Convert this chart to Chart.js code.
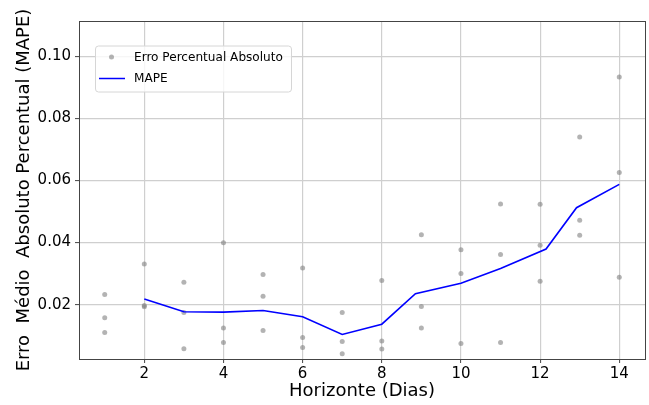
<!DOCTYPE html>
<html>
<head>
<meta charset="utf-8">
<script src="https://cdn.jsdelivr.net/npm/chart.js@4/dist/chart.umd.min.js"></script>
<style>
  html, body { margin: 0; padding: 0; background: #fff; overflow: hidden; }
  #mapeChart { display: block; }
</style>
</head>
<body>
<canvas id="mapeChart" width="649" height="405"></canvas>
<script>
// Horizontes (dias) e erros
const dias = [1, 2, 3, 4, 5, 6, 7, 8, 9, 10, 11, 12, 13, 14];
const erroAlto = [0.0233, 0.0331, 0.0272, 0.0399, 0.0297, 0.0318, 0.0175, 0.0278, 0.0425, 0.0377, 0.0524, 0.0523, 0.0740, 0.0933];
const erroMedio = [0.0158, 0.0197, 0.0175, 0.0125, 0.0227, 0.0094, 0.0081, 0.0083, 0.0194, 0.0300, 0.0361, 0.0391, 0.0472, 0.0625];
const erroBaixo = [0.0110, 0.0193, 0.0058, 0.0078, 0.0117, 0.0062, 0.0042, 0.0057, 0.0125, 0.0075, 0.0078, 0.0275, 0.0423, 0.0288];

// Curva MAPE
const mapeX = [2, 3, 4, 5, 6, 7, 8, 8.85, 10, 11, 12.15, 12.92, 14];
const mapeY = [0.0218, 0.0177, 0.0176, 0.0181, 0.0161, 0.0104, 0.0137, 0.0235, 0.0269, 0.0316, 0.0379, 0.0512, 0.0587];

const xTicks = [2, 4, 6, 8, 10, 12, 14];
const yTicks = [0.02, 0.04, 0.06, 0.08, 0.10];

const pontos = [];
[erroAlto, erroMedio, erroBaixo].forEach(serie => {
    serie.forEach((v, i) => pontos.push({ x: dias[i], y: v }));
});
const mape = mapeX.map((x, i) => ({ x: x, y: mapeY[i] }));

Chart.defaults.font.family = "'DejaVu Sans', sans-serif";
Chart.defaults.color = '#000';

// moldura do gráfico (estilo matplotlib)
const moldura = {
    id: 'moldura',
    afterDatasetsDraw(chart) {
        const a = chart.chartArea;
        const ctx = chart.ctx;
        ctx.save();
        ctx.strokeStyle = '#444';
        ctx.lineWidth = 1;
        ctx.strokeRect(Math.round(a.left) + 0.5, Math.round(a.top) + 0.5,
            Math.round(a.right - a.left), Math.round(a.bottom - a.top));
        ctx.restore();
    }
};

// legenda dentro da área do gráfico
const legenda = {
    id: 'legenda',
    afterDraw(chart) {
        const a = chart.chartArea;
        const ctx = chart.ctx;
        const ds = chart.data.datasets;
        const x0 = a.left + 16, y0 = a.top + 24.5;
        const w = 196, h = 46;
        ctx.save();
        ctx.fillStyle = 'rgba(255,255,255,0.8)';
        ctx.strokeStyle = '#d6d6d6';
        ctx.lineWidth = 1;
        ctx.beginPath();
        ctx.roundRect(x0 + 0.5, y0 + 0.5, w, h, 3);
        ctx.fill();
        ctx.stroke();

        // item 1: pontos
        ctx.fillStyle = ds[0].backgroundColor;
        ctx.beginPath();
        ctx.arc(x0 + 16.5, y0 + 11.5, 2.5, 0, Math.PI * 2);
        ctx.fill();
        // item 2: linha
        ctx.strokeStyle = ds[1].borderColor;
        ctx.lineWidth = 1.5;
        ctx.beginPath();
        ctx.moveTo(x0 + 4, y0 + 33);
        ctx.lineTo(x0 + 30, y0 + 33);
        ctx.stroke();

        // textos um pouco condensados, como no original
        ctx.font = "13px 'DejaVu Sans'";
        ctx.textBaseline = 'middle';
        ctx.fillStyle = '#000';
        ctx.translate(x0 + 39, 0);
        ctx.scale(0.93, 1);
        ctx.fillText(ds[0].label, 0, y0 + 12);
        ctx.fillText(ds[1].label, 0, y0 + 33.5);
        ctx.restore();
    }
};

const ctx = document.getElementById('mapeChart').getContext('2d');
const mapeChart = new Chart(ctx, {
    type: 'scatter',
    data: {
        datasets: [{
            label: 'Erro Percentual Absoluto',
            data: pontos,
            backgroundColor: 'rgba(128,128,128,0.6)',
            borderWidth: 0,
            pointRadius: 2.5,
            order: 2
        }, {
            type: 'line',
            label: 'MAPE',
            data: mape,
            borderColor: '#0000ff',
            borderWidth: 1.6,
            pointRadius: 0,
            showLine: true,
            fill: false,
            tension: 0,
            order: 1
        }]
    },
    options: {
        responsive: false,
        animation: false,
        devicePixelRatio: 1,
        layout: { padding: { left: 0, top: 21, right: 3, bottom: 0 } },
        plugins: {
            legend: { display: false },
            tooltip: { enabled: false }
        },
        scales: {
            x: {
                type: 'linear',
                min: 0.35,
                max: 14.65,
                afterBuildTicks: s => { s.ticks = xTicks.map(v => ({ value: v })); },
                afterFit: s => { s.height = 46; },
                grid: { color: '#cfcfcf', lineWidth: 1.2, drawTicks: true, tickLength: 4, tickColor: '#444', tickWidth: 1 },
                border: { display: false },
                ticks: { font: { size: 15 }, padding: 2, maxRotation: 0, autoSkip: false },
                title: {
                    display: true,
                    text: 'Horizonte (Dias)',
                    font: { size: 18 },
                    padding: { top: 0, bottom: 3 }
                }
            },
            y: {
                min: 0.0025,
                max: 0.1113,
                afterBuildTicks: s => { s.ticks = yTicks.map(v => ({ value: v })); },
                afterFit: s => { s.width = 79; },
                grid: { color: '#cfcfcf', lineWidth: 1.2, drawTicks: true, tickLength: 4, tickColor: '#444', tickWidth: 1 },
                border: { display: false },
                ticks: {
                    font: { size: 15 },
                    padding: 4,
                    autoSkip: false,
                    callback: v => v.toFixed(2)
                },
                title: {
                    display: true,
                    text: 'Erro  Médio  Absoluto Percentual (MAPE)',
                    font: { size: 18 },
                    padding: { top: 14, bottom: 0 }
                }
            }
        }
    },
    plugins: [moldura, legenda]
});
</script>
</body>
</html>
